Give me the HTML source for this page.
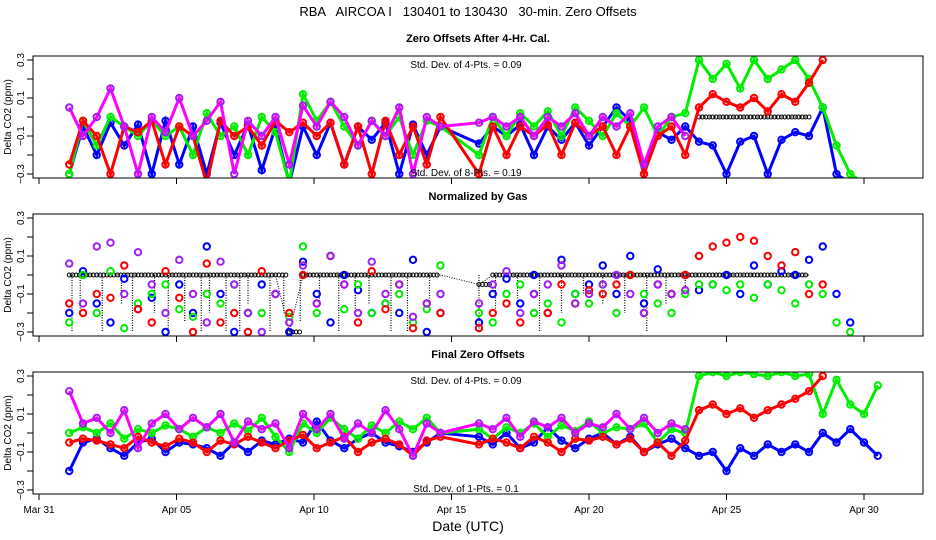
<!DOCTYPE html>
<html><head><meta charset="utf-8"><style>
html,body{margin:0;padding:0;background:#fff}
svg{display:block}
text{font-family:"Liberation Sans",sans-serif}
</style></head><body>
<svg id="chart" width="936" height="540" viewBox="0 0 936 540">
<text x="468" y="16" text-anchor="middle" font-size="13" style="white-space:pre" xml:space="preserve">RBA   AIRCOA I   130401 to 130430   30-min. Zero Offsets</text>
<text x="468" y="531" text-anchor="middle" font-size="14">Date (UTC)</text>
</svg>
<script>
// ---- data ----
const seg1Days = [1.1,1.6,2.1,2.6,3.1,3.6,4.1,4.6,5.1,5.6,6.1,6.6,7.1,7.6,8.1,8.6,9.1,9.6,10.1,10.6,11.1,11.6,12.1,12.6,13.1,13.6,14.1,14.6];
const seg2Days = [16,16.5,17,17.5,18,18.5,19,19.5,20,20.5,21,21.5,22,22.5,23,23.5,24,24.5,25,25.5,26,26.5,27,27.5,28,28.5,29,29.5,30,30.5];
const xTickLabels = ["Mar 31","Apr 05","Apr 10","Apr 15","Apr 20","Apr 25","Apr 30"];
const xTickDays = [0,5,10,15,20,25,30];
const yTickValues = [0.3,0.2,0.1,0,-0.1,-0.2,-0.3];
const yTickLabels = ["0.3","0.1","\u22120.1","\u22120.3"];
const yLabelValues = [0.3,0.1,-0.1,-0.3];

// panel 1: after 4-hr cal
const p1Blue = [-0.3,-0.05,-0.2,-0.03,-0.15,-0.04,-0.3,-0.02,-0.25,-0.05,-0.3,-0.03,-0.2,-0.04,-0.28,-0.05,-0.35,-0.05,-0.2,-0.03,-0.25,-0.05,-0.12,-0.03,-0.3,-0.04,-0.2,-0.05,
 -0.14,-0.05,-0.1,-0.04,-0.2,-0.05,-0.12,-0.03,-0.15,-0.05,0.05,-0.02,-0.25,-0.08,-0.12,-0.05,-0.13,-0.15,-0.3,-0.13,-0.1,-0.3,-0.12,-0.08,-0.1,0.05,-0.3,-0.35,null,null];
const p1Red = [-0.25,-0.02,-0.1,-0.3,-0.05,-0.08,-0.02,-0.25,-0.05,-0.1,-0.35,-0.02,-0.1,-0.05,-0.15,-0.02,-0.08,-0.03,-0.1,-0.03,-0.25,-0.05,-0.3,-0.02,-0.2,-0.05,-0.25,0.0,
 -0.3,-0.05,-0.2,-0.05,-0.1,-0.04,-0.2,-0.03,-0.1,-0.05,-0.2,-0.05,-0.3,-0.1,-0.05,-0.2,0.05,0.12,0.08,0.05,0.1,0.03,0.12,0.08,0.18,0.3,null,null,null,null];
const p1Green = [-0.3,-0.02,-0.15,0.0,-0.05,-0.1,-0.02,-0.1,-0.05,-0.2,0.02,-0.1,-0.05,-0.2,0.0,-0.08,-0.35,0.12,-0.02,0.08,-0.05,-0.15,-0.02,-0.1,0.0,-0.2,-0.02,-0.05,
 -0.2,0.0,-0.1,0.02,-0.05,0.03,-0.1,0.05,-0.02,-0.1,0.02,-0.05,0.05,-0.1,0.0,0.02,0.3,0.2,0.28,0.15,0.3,0.2,0.25,0.3,0.2,0.05,-0.15,-0.3,-0.35,null];
const p1Purple = [0.05,-0.1,0.0,0.15,-0.05,-0.3,0.0,-0.08,0.1,-0.1,-0.02,0.08,-0.3,-0.02,-0.1,0.0,-0.25,0.06,-0.05,0.08,0.0,-0.15,-0.02,-0.1,0.05,-0.3,0.0,-0.05,
 -0.03,0.0,-0.05,0.0,-0.1,0.0,-0.05,0.02,-0.1,0.0,-0.05,0.02,-0.25,-0.05,0.0,-0.1,null,null,null,null,null,null,null,null,null,null,null,null,null,null];
const p1Black = [null,null,null,null,null,null,null,null,null,null,null,null,null,null,null,null,null,null,null,null,null,null,null,null,null,null,null,null,
 null,null,null,null,null,null,null,null,null,null,null,null,null,null,null,null,0,0,0,0,0,0,0,0,0,null,null,null,null,null];

// panel 2: normalized by gas
const p2Blue = [-0.2,0.02,-0.15,-0.25,-0.02,-0.18,-0.12,-0.3,-0.05,-0.2,0.15,-0.1,-0.3,-0.2,-0.05,-0.1,-0.3,0.07,-0.1,-0.25,0.0,-0.08,-0.2,-0.15,-0.2,0.08,-0.3,-0.2,
 -0.25,-0.1,-0.02,-0.15,0.0,-0.2,0.08,-0.1,-0.05,0.05,-0.1,0.1,-0.15,0.03,-0.1,0.0,-0.08,-0.05,0.0,-0.1,0.05,-0.05,0.02,0.0,0.08,0.15,-0.1,-0.25,null,null];
const p2Red = [-0.15,-0.2,-0.1,-0.12,0.05,-0.18,-0.25,0.02,-0.12,-0.3,0.06,-0.25,-0.2,-0.3,0.02,-0.1,-0.2,0.0,-0.15,0.1,-0.05,-0.25,0.02,-0.18,-0.05,-0.28,-0.15,-0.2,
 -0.28,-0.2,-0.15,-0.25,-0.1,-0.2,-0.05,-0.15,-0.08,-0.1,-0.05,0.0,-0.2,-0.05,-0.1,0.0,0.1,0.15,0.17,0.2,0.18,0.1,0.05,0.12,-0.1,-0.05,null,null,null,null];
const p2Green = [-0.25,0.0,-0.2,0.02,-0.28,-0.15,-0.1,-0.05,-0.18,-0.22,-0.1,-0.15,-0.05,-0.2,-0.2,-0.1,-0.22,0.15,-0.2,0.1,-0.18,-0.05,-0.2,-0.15,-0.1,-0.25,-0.18,0.05,
 -0.2,-0.25,-0.1,-0.05,-0.2,-0.15,-0.25,-0.1,-0.15,-0.05,-0.2,0.0,-0.1,-0.15,-0.2,-0.1,-0.05,-0.05,-0.08,-0.05,-0.12,-0.05,-0.08,-0.15,-0.05,-0.1,-0.25,-0.3,null,null];
const p2Purple = [0.06,-0.15,0.15,0.17,-0.1,0.12,-0.05,-0.2,0.08,-0.1,-0.25,0.07,-0.05,-0.2,-0.3,-0.1,-0.25,0.05,-0.15,0.1,-0.05,-0.2,0.07,-0.1,-0.05,-0.22,-0.15,-0.1,
 -0.15,-0.05,0.02,-0.2,-0.1,-0.05,0.05,-0.15,-0.1,-0.05,0.0,-0.1,-0.2,-0.05,-0.1,-0.08,null,null,null,null,null,null,null,null,null,null,null,null,null,null];
const p2Black = [0,0,0,0,0,0,0,0,0,0,0,0,0,0,0,0,-0.3,0,0,0,0,0,0,0,0,0,0,0,
 -0.05,0,0,0,0,0,0,0,0,0,0,0,0,0,0,0,0,0,0,0,0,0,0,0,0,null,null,null,null,null];
const p2DropDays = [1.2,1.5,2.3,3.0,3.4,4.2,4.7,5.3,5.9,6.2,6.8,7.3,7.6,8.4,8.9,9.5,10.2,10.9,11.5,12.0,12.8,13.4,14.2,16.0,16.6,17.4,18.2,19.0,19.8,20.5,21.3,22.1,22.8,23.5];
const p2DropVals = [-0.3,-0.2,-0.3,-0.15,-0.3,-0.2,-0.3,-0.25,-0.3,-0.2,-0.3,-0.3,-0.15,-0.3,-0.2,-0.25,-0.15,-0.3,-0.2,-0.15,-0.3,-0.3,-0.15,-0.3,-0.2,-0.15,-0.3,-0.2,-0.1,-0.15,-0.2,-0.3,-0.15,-0.1];

// panel 3: final zero offsets
const p3Blue = [-0.2,-0.05,-0.03,-0.08,-0.12,-0.05,-0.03,-0.1,-0.05,-0.06,-0.08,-0.12,-0.05,-0.1,-0.04,-0.06,-0.03,-0.05,0.06,-0.04,-0.08,-0.03,0.0,-0.05,-0.07,-0.1,-0.05,0.0,
 -0.02,-0.06,0.0,-0.08,-0.05,0.03,-0.04,-0.08,-0.03,0.0,-0.06,-0.02,-0.1,-0.06,-0.03,-0.08,-0.12,-0.1,-0.2,-0.08,-0.12,-0.06,-0.1,-0.06,-0.1,0.0,-0.05,0.02,-0.05,-0.12];
const p3Red = [-0.05,-0.03,-0.04,-0.06,-0.08,-0.02,-0.05,-0.07,-0.03,-0.05,-0.1,-0.04,-0.06,-0.02,-0.05,-0.08,-0.04,-0.01,-0.08,-0.05,-0.02,-0.1,-0.05,-0.03,-0.06,-0.12,-0.04,-0.02,
 -0.06,-0.03,-0.05,-0.08,-0.02,-0.05,-0.1,-0.03,-0.04,-0.02,-0.06,-0.03,-0.1,-0.05,-0.12,-0.04,0.12,0.15,0.1,0.13,0.08,0.12,0.15,0.18,0.22,0.3,null,null,null,null];
const p3Green = [0.0,0.03,0.0,0.05,-0.03,0.02,0.0,0.04,0.02,-0.02,0.03,0.0,0.05,0.01,0.08,-0.02,-0.1,0.05,0.0,0.08,0.02,-0.03,0.04,0.0,0.06,0.02,0.08,0.0,
 0.02,-0.03,0.03,0.0,0.05,-0.02,0.04,0.01,0.06,0.0,0.03,0.02,0.05,-0.05,0.02,0.0,0.3,0.32,0.3,0.32,0.31,0.3,0.32,0.3,0.31,0.1,0.28,0.15,0.1,0.25];
const p3Purple = [0.22,0.05,0.08,0.0,0.12,-0.08,0.05,0.1,0.02,0.08,0.03,0.1,-0.05,0.06,0.02,0.05,-0.08,0.1,0.02,0.1,-0.03,0.05,0.0,0.12,0.02,-0.12,0.05,0.0,
 0.05,0.02,0.08,-0.02,0.06,0.03,0.08,0.0,0.05,0.03,0.1,0.02,0.08,0.0,0.05,0.02,null,null,null,null,null,null,null,null,null,null,null,null,null,null];

// ---- drawing ----
const NS = "http://www.w3.org/2000/svg";
const svg = document.getElementById("chart");
const days = seg1Days.concat(seg2Days);
const X0 = 39, PXDAY = 27.5, BOXL = 33, BOXR = 923;
function xScale(d){ return X0 + d * PXDAY; }
function mk(tag, attrs, parent){ const e = document.createElementNS(NS, tag); for (const k in attrs) e.setAttribute(k, attrs[k]); (parent||svg).appendChild(e); return e; }

const panels = [
 {top:56, title:"Zero Offsets After 4-Hr. Cal.", name:"after-cal", notes:["Std. Dev. of 4-Pts. = 0.09","Std. Dev. of 8-Pts. = 0.19"], lines:true,
  series:[["black",p1Black,"#000"],["blue",p1Blue,"#0000ff"],["green",p1Green,"#00ee00"],["red",p1Red,"#ff0000"],["purple",p1Purple,"#a020f0"]]},
 {top:214, title:"Normalized by Gas", name:"normalized", notes:[], lines:false,
  series:[["blue",p2Blue,"#0000ff"],["green",p2Green,"#00ee00"],["red",p2Red,"#ff0000"],["purple",p2Purple,"#a020f0"]]},
 {top:372, title:"Final Zero Offsets", name:"final", notes:["Std. Dev. of 4-Pts. = 0.09","Std. Dev. of 1-Pts. = 0.1"], lines:true,
  series:[["blue",p3Blue,"#0000ff"],["green",p3Green,"#00ee00"],["red",p3Red,"#ff0000"],["purple",p3Purple,"#a020f0"]]}
];

panels.forEach((p, pi) => {
  const yScale = v => p.top + 61 - v * 190;
  const g = mk("g", {});
  
  
  const cid = "clip" + pi;
  const cp = mk("clipPath", {id: cid}, g);
  mk("rect", {x: BOXL, y: p.top, width: BOXR - BOXL, height: 122}, cp);
  const t = mk("text", {x: 478, y: p.top - 14, "text-anchor": "middle", "font-size": 11, "font-weight": "bold"}, g);
  t.textContent = p.title;
  
  
  const plot = mk("g", {"clip-path": "url(#" + cid + ")"}, g);
  
  

  if (!p.lines) {
    p2DropDays.forEach((d, i) => {
      const l = mk("line", {x1: xScale(d), x2: xScale(d), y1: yScale(0), y2: yScale(p2DropVals[i]), stroke: "#000", "stroke-width": 1.2, "stroke-dasharray": "1 1.5"}, plot);
      
      
    });
    let dstr = "";
    p2Black.forEach((v, i) => { if (v === null) return; dstr += (dstr ? "L" : "M") + xScale(days[i]).toFixed(1) + "," + yScale(v).toFixed(1); });
    const bl = mk("path", {d: dstr, fill: "none", stroke: "#000", "stroke-width": 1, "stroke-dasharray": "1 1.5"}, plot);
    
    
    p2Black.forEach((v, i) => {
      if (v === null) return;
      const nx = days[i + 1];
      if (nx === undefined || p2Black[i+1] === null || days[i+1]-days[i] > 1) return;
      for (let k = 0; k < 4; k++) {
        const c = mk("circle", {cx: xScale(days[i] + k * 0.125), cy: yScale(v), r: 2, fill: "none", stroke: "#000", "stroke-width": 1}, plot);
        
        
      }
    });
  }

  p.series.forEach(([nm, vals, col]) => {
    const sg = mk("g", {}, plot);
    
    
    if (p.lines) {
      let dstr = "", pen = false;
      vals.forEach((v, i) => {
        if (v === null) { pen = false; return; }
        dstr += (pen ? "L" : "M") + xScale(days[i]).toFixed(1) + "," + yScale(v).toFixed(1);
        pen = true;
      });
      const path = mk("path", {d: dstr, fill: "none", stroke: nm === "purple" ? "#ff00ff" : col, "stroke-width": nm === "black" ? 1 : 3, "stroke-dasharray": nm === "black" ? "1 1" : "none"}, sg);
      
      
    }
    vals.forEach((v, i) => {
      if (v === null) return;
      const c = mk("circle", {cx: xScale(days[i]), cy: yScale(v), r: nm === "black" ? 2 : 3.2, fill: "none", stroke: col, "stroke-width": nm === "black" ? 1 : 2}, sg);
      
      
      if (nm === "black" && vals[i+1] !== null && vals[i+1] !== undefined) {
        for (let k = 1; k < 4; k++) {
          const c2 = mk("circle", {cx: xScale(days[i] + k * 0.125), cy: yScale(v), r: 2, fill: "none", stroke: col, "stroke-width": 1}, sg);
          
          
        }
      }
    });
  });

  p.notes.forEach((n, k) => {
    const nt = mk("text", {x: 466, y: k === 0 ? p.top + 12 : p.top + 120, "text-anchor": "middle", "font-size": 10}, g);
    nt.textContent = n;
    
    
  });

  const box = mk("rect", {x: BOXL, y: p.top, width: BOXR - BOXL, height: 122, fill: "none", stroke: "#000", "stroke-width": 1}, g);
  
  

  yTickValues.forEach(v => {
    const tk = mk("line", {x1: 27, x2: BOXL, y1: yScale(v), y2: yScale(v), stroke: "#000"}, g);
    
    
  });
  yLabelValues.forEach((v, k) => {
    const yl = mk("text", {x: 0, y: 0, transform: "translate(24," + yScale(v) + ") rotate(-90)", "text-anchor": "middle", "font-size": 10}, g);
    yl.textContent = yTickLabels[k];
    
    
  });
  const yt = mk("text", {x: 0, y: 0, transform: "translate(11," + (p.top + 61) + ") rotate(-90)", "text-anchor": "middle", "font-size": 10}, g);
  yt.textContent = "Delta CO2 (ppm)";
  
  

  xTickDays.forEach((d, k) => {
    const tk = mk("line", {x1: xScale(d), x2: xScale(d), y1: p.top + 122, y2: p.top + 128, stroke: "#000"}, g);
    
    
    if (pi === 2) {
      const xl = mk("text", {x: xScale(d), y: p.top + 141, "text-anchor": "middle", "font-size": 10}, g);
      xl.textContent = xTickLabels[k];
      
      
    }
  });
});
</script>
</body></html>
